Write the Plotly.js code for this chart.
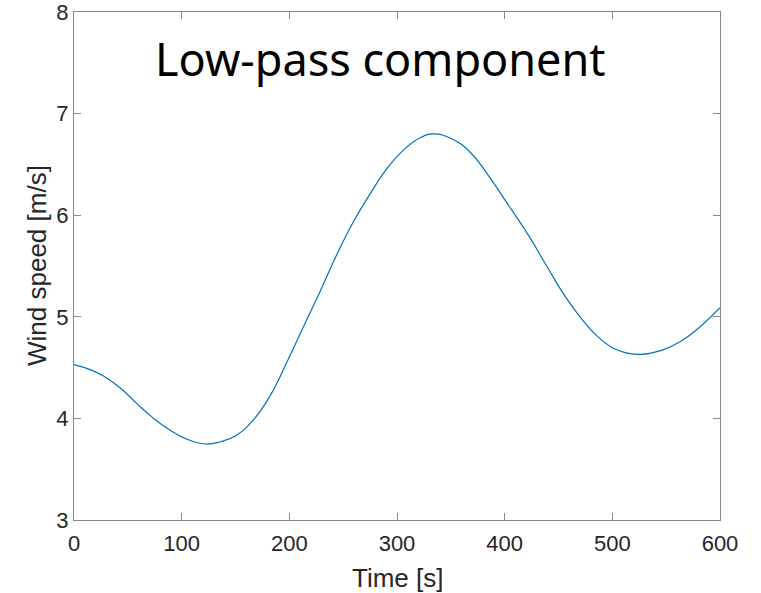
<!DOCTYPE html>
<html>
<head>
<meta charset="utf-8">
<script src="https://cdn.plot.ly/plotly-3.0.1.min.js"></script>
<style>html,body{margin:0;padding:0;background:#fff;}#chart{width:761px;height:593px;}</style>
</head>
<body>
<div id="chart"></div>
<script>
const timeS = [0, 15, 27, 43, 58, 74, 89, 105, 122, 136, 151, 167, 182, 198, 213, 229, 244, 259, 275, 290, 306, 321, 334, 352, 368, 383, 399, 424, 439, 455, 470, 486, 501, 513, 526, 547, 563, 578, 600];
const windSpeed = [4.53, 4.48, 4.42, 4.30, 4.15, 4.00, 3.885, 3.795, 3.748, 3.77, 3.835, 3.99, 4.22, 4.56, 4.90, 5.26, 5.61, 5.925, 6.21, 6.45, 6.64, 6.76, 6.80, 6.745, 6.62, 6.42, 6.17, 5.77, 5.50, 5.22, 5.00, 4.81, 4.69, 4.645, 4.63, 4.675, 4.755, 4.87, 5.09];
const xTicks = [0, 100, 200, 300, 400, 500, 600];
const yTicks = [3, 4, 5, 6, 7, 8];
const titleText = "Low-pass component";
const xTitle = "Time [s]";
const yTitle = "Wind speed [m/s]";

const labelFont = 'Liberation Sans, Arial, Helvetica, sans-serif';
const axisCommon = {
  showgrid: false, zeroline: false, showline: true, linecolor: '#8a8a8a', linewidth: 1,
  mirror: 'ticks', ticks: 'inside', ticklen: 7, tickcolor: '#8a8a8a', tickwidth: 1,
  ticklabeloverflow: 'allow',
  tickfont: {family: labelFont, size: 22, color: '#262626'}
};

const data = [{
  x: timeS, y: windSpeed, type: 'scatter', mode: 'lines',
  line: {color: '#0072BD', width: 1.2, shape: 'spline', smoothing: 1.3}
}];

const layout = {
  width: 761, height: 593,
  margin: {l: 74, r: 41, t: 12, b: 73},
  paper_bgcolor: '#fff', plot_bgcolor: '#fff',
  showlegend: false,
  xaxis: Object.assign({}, axisCommon, {
    range: [0, 600], tickvals: xTicks, ticktext: xTicks.map(String), ticklabelstandoff: 4
  }),
  yaxis: Object.assign({}, axisCommon, {
    range: [3, 8], tickvals: yTicks, ticktext: yTicks.map(String)
  }),
  annotations: [
    {
      text: titleText, xref: 'paper', yref: 'paper', x: 0.4737, y: 0.9075,
      xanchor: 'center', yanchor: 'middle', showarrow: false,
      font: {family: 'Noto Sans, Open Sans, sans-serif', size: 45, color: '#000'}
    },
    {
      text: xTitle, xref: 'paper', yref: 'paper', x: 0.5, y: 0, yshift: -58,
      xanchor: 'center', yanchor: 'middle', showarrow: false,
      font: {family: labelFont, size: 26, color: '#262626'}
    },
    {
      text: yTitle, xref: 'paper', yref: 'paper', x: 0, y: 0.5, xshift: -37, textangle: -90,
      xanchor: 'center', yanchor: 'middle', showarrow: false,
      font: {family: labelFont, size: 26, color: '#262626'}
    }
  ]
};

Plotly.newPlot('chart', data, layout, {displayModeBar: false, staticPlot: true});
</script>
</body>
</html>
